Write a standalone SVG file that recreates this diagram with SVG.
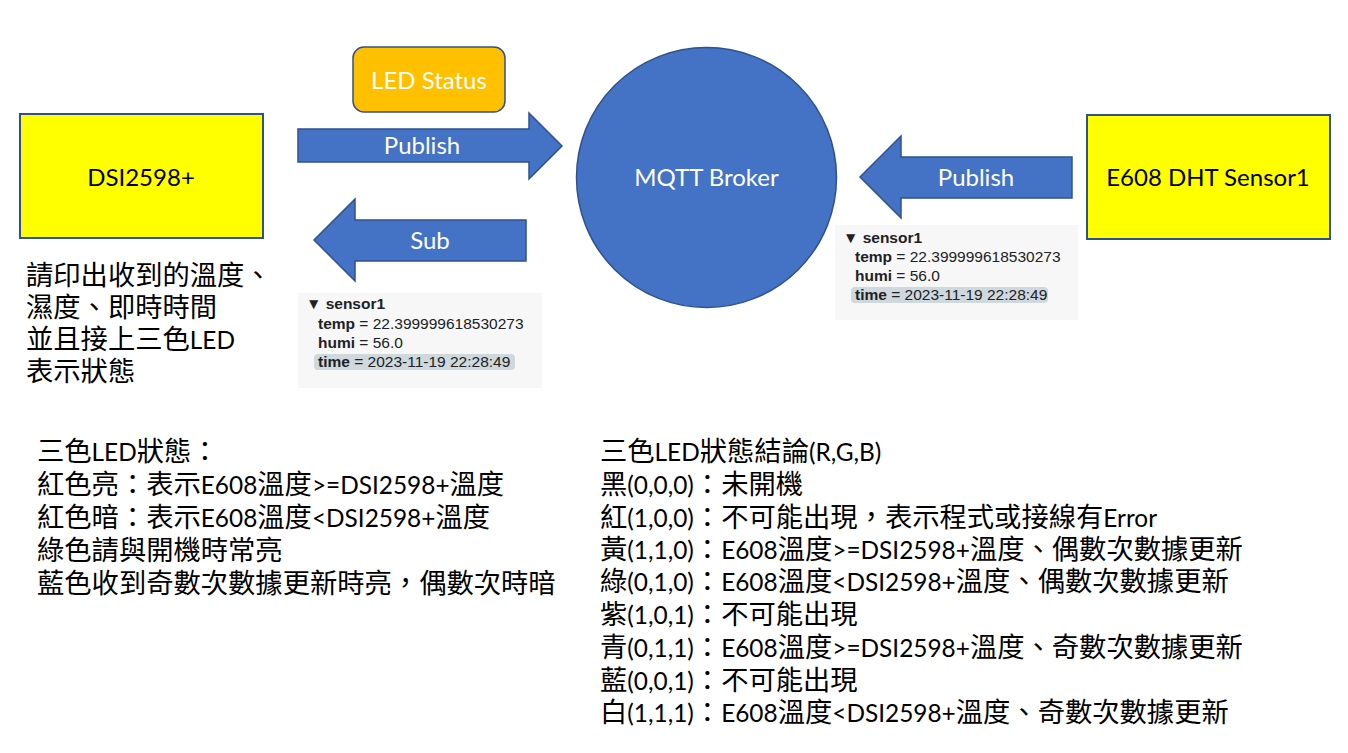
<svg xmlns="http://www.w3.org/2000/svg" width="1348" height="753" viewBox="0 0 1348 753">
<style>
.box{fill:#FFFF00;stroke:#2F528F;stroke-width:2}
.blue{fill:#4472C4;stroke:#2F528F;stroke-width:1.5}
.lbl{font-family:Lato,"Noto Sans CJK TC",sans-serif;font-size:24px;text-anchor:middle}
.w{fill:#FFFFFF}
.k{fill:#000000}
.cn{font-family:"Noto Sans CJK TC",sans-serif;font-size:27.3px;fill:#000000}
.l{font-family:Lato,"Noto Sans CJK TC",sans-serif;font-size:24.4px}
.shot{fill:#F7F7F7}
.hl{fill:#CFD8DC}
.db{font-family:"Liberation Sans",Arial,sans-serif;font-size:15.5px;fill:#202124}
.b{font-weight:bold}
</style>
<rect width="1348" height="753" fill="#FFFFFF"/>

<g id="connectors">
<polygon class="blue" points="298,129 529,129 529,113 562,146 529,179 529,162 298,162"/>
<text class="lbl w" x="422" y="154">Publish</text>
<polygon class="blue" points="526,220 355,220 355,199 314,240 355,281 355,261 526,261"/>
<text class="lbl w" x="430" y="249">Sub</text>
<polygon class="blue" points="1072,157 901,157 901,136 860,177 901,218 901,198 1072,198"/>
<text class="lbl w" x="976" y="186">Publish</text>
</g>

<g id="node-dsi">
<rect class="box" x="20" y="114" width="243" height="124"/>
<text class="lbl k" x="141" y="186">DSI2598+</text>
</g>

<g id="node-led-status">
<rect x="353" y="47" width="152" height="65" rx="11" fill="#FFC000" stroke="#2F528F" stroke-width="1.5"/>
<text class="lbl w" x="429" y="89">LED Status</text>
</g>

<g id="node-broker">
<circle cx="706.5" cy="177.5" r="130" class="blue"/>
<text class="lbl w" x="706.5" y="186">MQTT Broker</text>
</g>

<g id="node-e608">
<rect class="box" x="1087" y="115" width="243" height="124"/>
<text class="lbl k" x="1208" y="186">E608 DHT Sensor1</text>
</g>

<g id="shot-left">
<rect class="shot" x="298" y="293" width="244" height="95"/>
<rect class="hl" x="314" y="354" width="201" height="16" rx="4"/>
<text class="db b" x="306" y="309">▼ sensor1</text>
<text class="db" x="318" y="329"><tspan class="b">temp</tspan> = 22.399999618530273</text>
<text class="db" x="318" y="348"><tspan class="b">humi</tspan> = 56.0</text>
<text class="db" x="318" y="367"><tspan class="b">time</tspan> = 2023-11-19 22:28:49</text>
</g>

<g id="shot-right">
<rect class="shot" x="835" y="225" width="243" height="95"/>
<rect class="hl" x="851" y="287" width="197" height="16" rx="4"/>
<text class="db b" x="843" y="243">▼ sensor1</text>
<text class="db" x="855" y="262"><tspan class="b">temp</tspan> = 22.399999618530273</text>
<text class="db" x="855" y="281"><tspan class="b">humi</tspan> = 56.0</text>
<text class="db" x="855" y="300"><tspan class="b">time</tspan> = 2023-11-19 22:28:49</text>
</g>

<g id="note-task">
<text class="cn" x="26" y="285">請印出收到的溫度、</text>
<text class="cn" x="26" y="317">濕度、即時時間</text>
<text class="cn" x="26" y="349">並且接上三色<tspan class="l">LED</tspan></text>
<text class="cn" x="26" y="381">表示狀態</text>
</g>

<g id="note-led">
<text class="cn" x="37" y="461">三色<tspan class="l">LED</tspan>狀態：</text>
<text class="cn" x="37" y="494">紅色亮：表示<tspan class="l">E608</tspan>溫度<tspan class="l">&gt;=DSI2598+</tspan>溫度</text>
<text class="cn" x="37" y="527">紅色暗：表示<tspan class="l">E608</tspan>溫度<tspan class="l">&lt;DSI2598+</tspan>溫度</text>
<text class="cn" x="37" y="560">綠色請與開機時常亮</text>
<text class="cn" x="37" y="593">藍色收到奇數次數據更新時亮，偶數次時暗</text>
</g>

<g id="note-rgb">
<text class="cn" x="600" y="461">三色<tspan class="l">LED</tspan>狀態結論<tspan class="l">(R,G,B)</tspan></text>
<text class="cn" x="600" y="494">黑<tspan class="l">(0,0,0)</tspan>：未開機</text>
<text class="cn" x="600" y="527">紅<tspan class="l">(1,0,0)</tspan>：不可能出現，表示程式或接線有<tspan class="l">Error</tspan></text>
<text class="cn" x="600" y="559">黃<tspan class="l">(1,1,0)</tspan>：<tspan class="l">E608</tspan>溫度<tspan class="l">&gt;=DSI2598+</tspan>溫度、偶數次數據更新</text>
<text class="cn" x="600" y="591">綠<tspan class="l">(0,1,0)</tspan>：<tspan class="l">E608</tspan>溫度<tspan class="l">&lt;DSI2598+</tspan>溫度、偶數次數據更新</text>
<text class="cn" x="600" y="624">紫<tspan class="l">(1,0,1)</tspan>：不可能出現</text>
<text class="cn" x="600" y="657">青<tspan class="l">(0,1,1)</tspan>：<tspan class="l">E608</tspan>溫度<tspan class="l">&gt;=DSI2598+</tspan>溫度、奇數次數據更新</text>
<text class="cn" x="600" y="690">藍<tspan class="l">(0,0,1)</tspan>：不可能出現</text>
<text class="cn" x="600" y="722">白<tspan class="l">(1,1,1)</tspan>：<tspan class="l">E608</tspan>溫度<tspan class="l">&lt;DSI2598+</tspan>溫度、奇數次數據更新</text>
</g>
</svg>
